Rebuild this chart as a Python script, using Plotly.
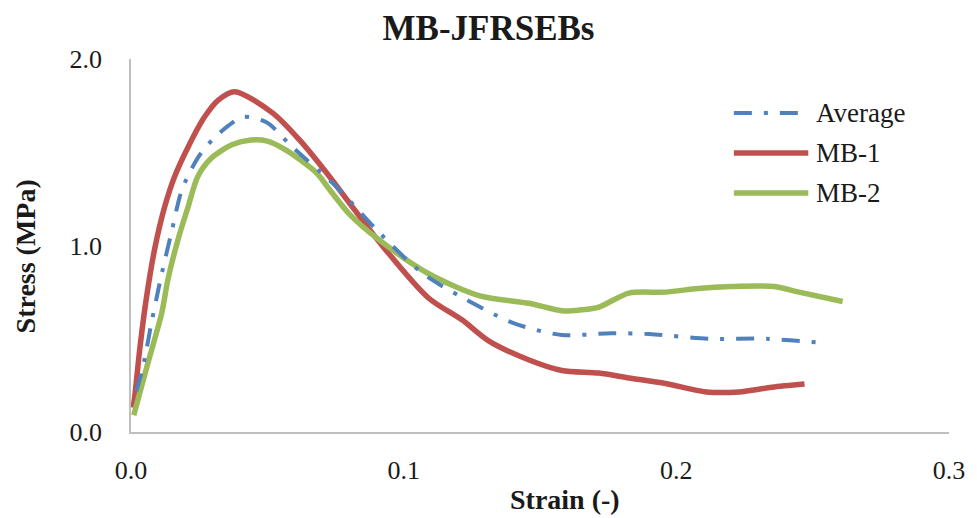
import plotly.graph_objects as go

# Stress-strain curves for the MB-JFRSEBs specimens
mb1_strain = [0.0007, 0.0012, 0.0033, 0.0057, 0.0088, 0.0124, 0.016, 0.021, 0.027, 0.032,
              0.038, 0.052, 0.0618, 0.0717, 0.080,
              0.091, 0.109, 0.1215, 0.131, 0.146, 0.158, 0.1716, 0.1826, 0.196, 0.211,
              0.223, 0.235, 0.247]
mb1_stress = [0.13, 0.17, 0.456, 0.724, 0.99, 1.21, 1.37, 1.53, 1.69, 1.78,
              1.825, 1.71, 1.566, 1.39, 1.23,
              1.02, 0.72, 0.60, 0.49, 0.386, 0.33, 0.316, 0.29, 0.26, 0.215,
              0.215, 0.24, 0.257]

mb2_strain = [0.001, 0.0062, 0.0113, 0.0135, 0.0172, 0.021, 0.0245, 0.0296, 0.037, 0.044,
              0.050, 0.057, 0.068, 0.0728, 0.080, 0.091, 0.109, 0.128, 0.146, 0.158,
              0.165, 0.1716, 0.1826, 0.196, 0.208, 0.220, 0.236, 0.245, 0.261]
mb2_stress = [0.09, 0.37, 0.64, 0.815, 1.03, 1.21, 1.37, 1.47, 1.54, 1.566,
              1.56, 1.51, 1.39, 1.30, 1.17, 1.03, 0.85, 0.73, 0.69, 0.65,
              0.655, 0.67, 0.745, 0.75, 0.77, 0.78, 0.78, 0.75, 0.70]

avg_strain = [0.002, 0.0044, 0.0077, 0.0113, 0.015, 0.0187, 0.0245, 0.030, 0.0355, 0.041,
              0.0498, 0.059, 0.075, 0.091, 0.107, 0.128, 0.141, 0.158, 0.176, 0.190,
              0.212, 0.233, 0.254]
avg_stress = [0.22, 0.35, 0.60, 0.85, 1.08, 1.30, 1.47, 1.57, 1.64, 1.69,
              1.66, 1.53, 1.32, 1.07, 0.85, 0.67, 0.58, 0.52, 0.53, 0.525,
              0.50, 0.50, 0.477]

series_names = ["Average", "MB-1", "MB-2"]

BLUE = "#4F81BD"
RED = "#C0504D"
GREEN = "#9BBB59"
AVG_DASH = "18px,12px,4px,12px"
FONT = "Liberation Serif"
TEXT = "#1a1a1a"

fig = go.Figure()
fig.add_trace(go.Scatter(x=mb1_strain, y=mb1_stress, mode="lines", name=series_names[1],
                         line=dict(color=RED, width=5.5, shape="spline", smoothing=0.8)))
fig.add_trace(go.Scatter(x=mb2_strain, y=mb2_stress, mode="lines", name=series_names[2],
                         line=dict(color=GREEN, width=5.5, shape="spline", smoothing=0.8)))
fig.add_trace(go.Scatter(x=avg_strain, y=avg_stress, mode="lines", name=series_names[0],
                         line=dict(color=BLUE, width=4, dash=AVG_DASH, shape="spline", smoothing=0.8)))

# Legend drawn as keys in paper coordinates (longer keys than the built-in legend)
legend_items = [(series_names[0], BLUE, AVG_DASH, 4, 0.855),
                (series_names[1], RED, "solid", 5.5, 0.748),
                (series_names[2], GREEN, "solid", 5.5, 0.641)]
for name, color, dash, width, ly in legend_items:
    fig.add_shape(type="line", xref="paper", yref="paper", x0=0.737, x1=0.828, y0=ly, y1=ly,
                  line=dict(color=color, width=width, dash=dash))
    fig.add_annotation(xref="paper", yref="paper", x=0.835, y=ly, text=name, showarrow=False,
                       xanchor="left", yanchor="middle", font=dict(family=FONT, size=27, color=TEXT))

# Axis titles
fig.add_annotation(xref="paper", yref="paper", x=0.530, y=-0.182, text="<b>Strain (-)</b>",
                   showarrow=False, xanchor="center", yanchor="middle",
                   font=dict(family=FONT, size=28, color=TEXT))
fig.add_annotation(xref="paper", yref="paper", x=-0.129, y=0.472, text="<b>Stress (MPa)</b>",
                   showarrow=False, xanchor="center", yanchor="middle", textangle=-90,
                   font=dict(family=FONT, size=28, color=TEXT))

fig.update_layout(
    width=977, height=518,
    margin=dict(l=131, r=26, t=59, b=86),
    paper_bgcolor="white", plot_bgcolor="white",
    showlegend=False,
    title=dict(text="<b>MB-JFRSEBs</b>", x=0.5, xref="container", xanchor="center",
               y=1 - 28 / 518, yref="container", yanchor="middle",
               font=dict(family=FONT, size=35, color=TEXT)),
    xaxis=dict(range=[0, 0.3], dtick=0.1, tick0=0, tickformat=".1f", showgrid=False,
               zeroline=False, showline=True, linecolor="#BFBFBF", linewidth=1.5,
               ticks="", ticklabelstandoff=14,
               tickfont=dict(family=FONT, size=26, color=TEXT)),
    yaxis=dict(range=[0, 2.0], dtick=1.0, tick0=0, tickformat=".1f", showgrid=False,
               zeroline=False, showline=True, linecolor="#BFBFBF", linewidth=1.5,
               ticks="", ticklabelstandoff=22,
               tickfont=dict(family=FONT, size=26, color=TEXT)),
)

fig.write_html("out.html")
